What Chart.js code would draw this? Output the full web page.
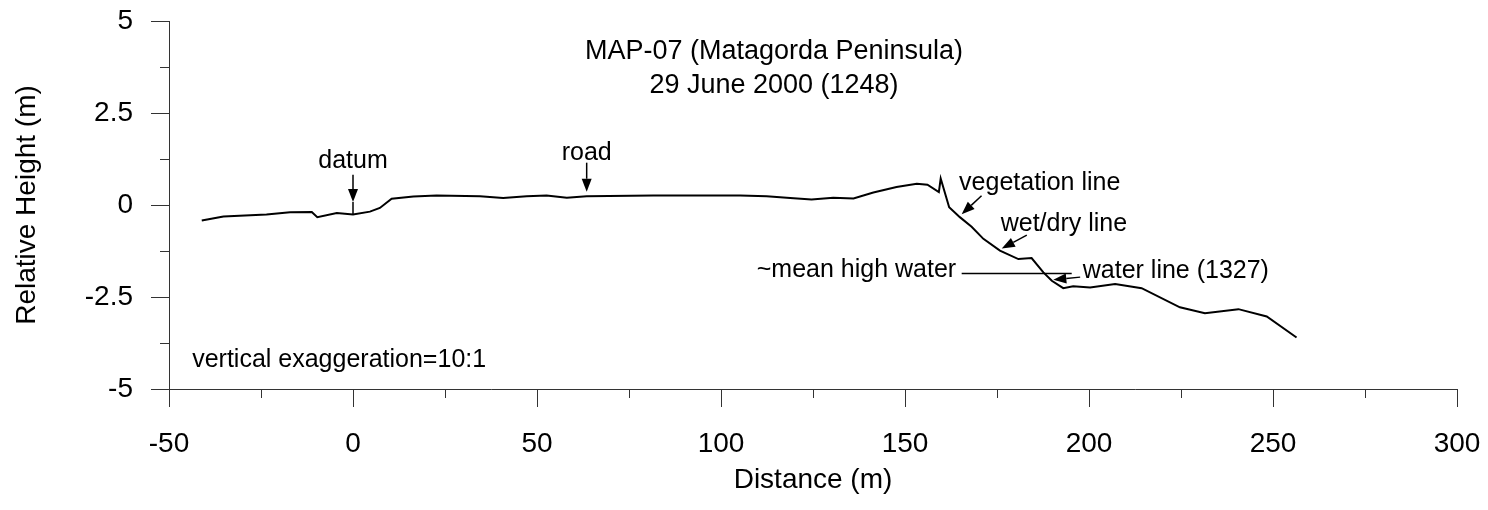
<!DOCTYPE html>
<html>
<head>
<meta charset="utf-8">
<script src="https://cdn.jsdelivr.net/npm/chart.js@4.4.1/dist/chart.umd.min.js"></script>
<style>
  body { margin: 0; background: #fff; }
  #wrap { width: 1488px; height: 510px; position: relative; }
</style>
</head>
<body>
<div id="wrap"><canvas id="profile"></canvas></div>
<script>
// Beach profile MAP-07, distance (m) vs relative height (m)
const distance = [-41.1, -35.2, -23.5, -17.1, -11.2, -9.7, -4.4, 0, 4.6, 7.3, 10.5, 16.4, 22.7, 34.5, 40.8, 47.2,
  52.6, 58.1, 63.5, 81.6, 105.2, 112.4, 118.8, 124.6, 130.5, 136.0, 141.4, 147.7, 153.2, 156.1, 159.2, 159.7,
  162.0, 164.9, 168.1, 171.3, 175.8, 180.8, 184.4, 187.6, 189.9, 193.0, 195.7, 200.3, 207.1, 214.3, 224.7,
  231.5, 240.6, 248.3, 256.4];
const height = [-0.42, -0.31, -0.26, -0.20, -0.19, -0.33, -0.22, -0.26, -0.18, -0.08, 0.17, 0.23, 0.26, 0.24, 0.19, 0.24,
  0.26, 0.20, 0.24, 0.26, 0.26, 0.24, 0.19, 0.15, 0.20, 0.18, 0.34, 0.49, 0.58, 0.55, 0.35, 0.72,
  -0.06, -0.33, -0.59, -0.92, -1.24, -1.47, -1.44, -1.83, -2.06, -2.26, -2.21, -2.24, -2.15, -2.26, -2.78,
  -2.94, -2.83, -3.03, -3.60];

const xLabels = [-50, 0, 50, 100, 150, 200, 250, 300];
const yLabels = [-5, -2.5, 0, 2.5, 5];

const titleLines = ['MAP-07 (Matagorda Peninsula)', '29 June 2000 (1248)'];

// text notes, placed in data units
const notes = [
  { text: 'datum', x: 0, y: 1.0, align: 'center' },
  { text: 'road', x: 63.5, y: 1.23, align: 'center' },
  { text: 'vegetation line', x: 164.7, y: 0.41, align: 'left' },
  { text: 'wet/dry line', x: 176.0, y: -0.70, align: 'left' },
  { text: '~mean high water', x: 163.9, y: -1.96, align: 'right' },
  { text: 'water line (1327)', x: 198.3, y: -1.99, align: 'left' },
  { text: 'vertical exaggeration=10:1', x: -43.7, y: -4.39, align: 'left' }
];

// [x0, y0, x1, y1, arrowhead at end?]
const arrows = [
  [0, 0.82, 0, 0.08, true],
  [0, 0.08, 0, -0.27, false],
  [63.5, 1.15, 63.5, 0.36, true],
  [170.8, 0.25, 165.4, -0.25, true],
  [183.1, -0.82, 176.3, -1.18, true],
  [165.4, -1.86, 195.3, -1.86, false],
  [197.6, -1.96, 190.3, -2.03, true]
];

const FONT = "'Liberation Sans', Arial, sans-serif";

function isMajor(v, step) {
  return Math.abs(v / step - Math.round(v / step)) < 1e-6;
}

const annotate = {
  id: 'annotate',
  afterDraw(chart) {
    const { ctx, chartArea } = chart;
    const xs = chart.scales.x, ys = chart.scales.y;
    ctx.save();
    ctx.strokeStyle = '#333';
    ctx.lineWidth = 1;

    // short minor ticks
    ctx.beginPath();
    xs.ticks.forEach(t => {
      if (isMajor(t.value, 50)) return;
      const px = Math.round(xs.getPixelForValue(t.value)) + 0.5;
      ctx.moveTo(px, chartArea.bottom);
      ctx.lineTo(px, chartArea.bottom + 9);
    });
    ys.ticks.forEach(t => {
      if (isMajor(t.value, 2.5)) return;
      const py = Math.round(ys.getPixelForValue(t.value)) + 0.5;
      ctx.moveTo(chartArea.left - 9, py);
      ctx.lineTo(chartArea.left, py);
    });
    ctx.stroke();

    ctx.fillStyle = '#000';
    ctx.strokeStyle = '#000';

    // title
    ctx.font = '27px ' + FONT;
    ctx.textAlign = 'center';
    ctx.textBaseline = 'alphabetic';
    ctx.fillText(titleLines[0], xs.getPixelForValue(114.4), ys.getPixelForValue(3.96));
    ctx.fillText(titleLines[1], xs.getPixelForValue(114.4), ys.getPixelForValue(3.05));

    // notes
    ctx.font = '25px ' + FONT;
    notes.forEach(n => {
      ctx.textAlign = n.align;
      ctx.fillText(n.text, xs.getPixelForValue(n.x), ys.getPixelForValue(n.y));
    });

    // arrows
    ctx.lineWidth = 1.5;
    arrows.forEach(a => {
      const x0 = xs.getPixelForValue(a[0]), y0 = ys.getPixelForValue(a[1]);
      const x1 = xs.getPixelForValue(a[2]), y1 = ys.getPixelForValue(a[3]);
      const ang = Math.atan2(y1 - y0, x1 - x0);
      const len = 13, half = 5;
      const bx = x1 - len * Math.cos(ang), by = y1 - len * Math.sin(ang);
      ctx.beginPath();
      ctx.moveTo(x0, y0);
      ctx.lineTo(a[4] ? bx : x1, a[4] ? by : y1);
      ctx.stroke();
      if (a[4]) {
        ctx.beginPath();
        ctx.moveTo(x1, y1);
        ctx.lineTo(bx + half * Math.sin(ang), by - half * Math.cos(ang));
        ctx.lineTo(bx - half * Math.sin(ang), by + half * Math.cos(ang));
        ctx.closePath();
        ctx.fill();
      }
    });
    ctx.restore();
  }
};

const ctx = document.getElementById('profile').getContext('2d');

const profileChart = new Chart(ctx, {
  type: 'scatter',
  data: {
    datasets: [{
      data: distance.map((d, i) => ({ x: d, y: height[i] })),
      showLine: true,
      borderColor: '#000',
      borderWidth: 2,
      pointRadius: 0,
      tension: 0
    }]
  },
  options: {
    responsive: true,
    maintainAspectRatio: false,
    animation: false,
    layout: { padding: { top: 21, right: 31, left: 0, bottom: 0 } },
    plugins: { legend: { display: false }, tooltip: { enabled: false } },
    scales: {
      x: {
        type: 'linear',
        min: -50,
        max: 300,
        afterFit: s => { s.height = 121; s.paddingLeft = 0; s.paddingRight = 0; },
        border: { display: true, color: '#333', width: 1 },
        grid: {
          drawOnChartArea: false,
          drawTicks: true,
          tickLength: 18,
          tickColor: c => isMajor(c.tick.value, 50) ? '#333' : 'rgba(0,0,0,0)'
        },
        ticks: {
          stepSize: 25,
          autoSkip: false,
          maxRotation: 0,
          padding: 20,
          color: '#000',
          font: { family: FONT, size: 28 },
          callback: v => xLabels.includes(v) ? String(v) : ''
        },
        title: {
          display: true,
          text: 'Distance (m)',
          color: '#000',
          font: { family: FONT, size: 28 },
          padding: { top: 0, bottom: 13 }
        }
      },
      y: {
        min: -5,
        max: 5,
        afterFit: s => { s.width = 169; s.paddingTop = 0; s.paddingBottom = 0; },
        border: { display: true, color: '#333', width: 1 },
        grid: {
          drawOnChartArea: false,
          drawTicks: true,
          tickLength: 18,
          tickColor: c => isMajor(c.tick.value, 2.5) ? '#333' : 'rgba(0,0,0,0)'
        },
        ticks: {
          stepSize: 1.25,
          autoSkip: false,
          padding: 18,
          color: '#000',
          font: { family: FONT, size: 28 },
          callback: v => yLabels.includes(v) ? String(v) : ''
        },
        title: {
          display: true,
          text: 'Relative Height (m)',
          color: '#000',
          font: { family: FONT, size: 28 },
          padding: { top: 10, bottom: 0 }
        }
      }
    }
  },
  plugins: [annotate]
});
</script>
</body>
</html>
